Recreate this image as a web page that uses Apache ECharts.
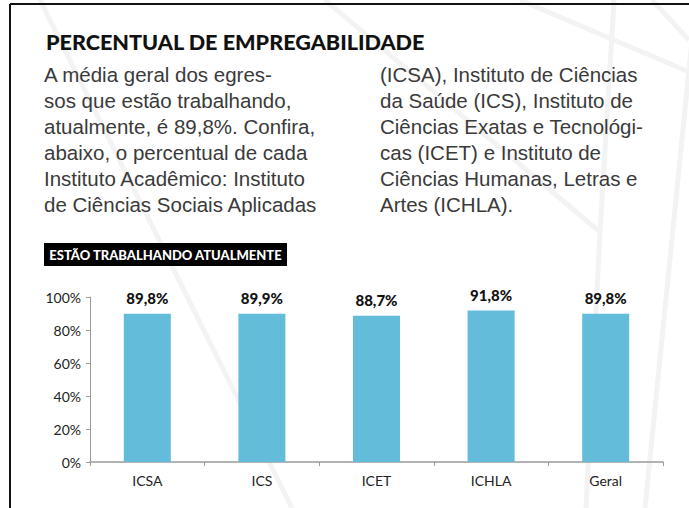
<!DOCTYPE html>
<html>
<head>
<meta charset="utf-8">
<script src="https://cdn.jsdelivr.net/npm/echarts@6/dist/echarts.min.js"></script>
<style>
  html, body { margin: 0; padding: 0; background: #fff; }
  #chart { width: 689px; height: 508px; }
</style>
</head>
<body>
<div id="chart"></div>
<script>
// dados do gráfico
let institutos = ['ICSA', 'ICS', 'ICET', 'ICHLA', 'Geral'];
let empregados = [89.8, 89.9, 88.7, 91.8, 89.8];
let rotulos = ['89,8%', '89,9%', '88,7%', '91,8%', '89,8%'];
let ticksY = [0, 20, 40, 60, 80, 100];

let titulo = 'PERCENTUAL DE EMPREGABILIDADE';
let colunaEsq = [
    'A média geral dos egres-',
    'sos que estão trabalhando,',
    'atualmente, é 89,8%. Confira,',
    'abaixo, o percentual de cada',
    'Instituto Acadêmico: Instituto',
    'de Ciências Sociais Aplicadas'
];
let colunaDir = [
    '(ICSA), Instituto de Ciências',
    'da Saúde (ICS), Instituto de',
    'Ciências Exatas e Tecnológi-',
    'cas (ICET) e Instituto de',
    'Ciências Humanas, Letras e',
    'Artes (ICHLA).'
];
let etiqueta = 'ESTÃO TRABALHANDO ATUALMENTE';

(function(){
    let chart = echarts.init(document.getElementById('chart'), null, {renderer: 'svg'});

    // linhas decorativas do fundo
    let fundo = [
        [40, 0, 292, 508],
        [325, 0, 600, 232],
        [520, 0, 689, 72],
        [614, 0, 600, 232],
        [600, 232, 586, 508],
        [692, 40, 645, 508],
        [652, 0, 689, 40]
    ].map(l => ({
        type: 'line', silent: true, z: -10,
        shape: {x1: l[0], y1: l[1], x2: l[2], y2: l[3]},
        style: {stroke: '#f3f3f3', lineWidth: 5}
    }));

    let textos = [];
    colunaEsq.forEach((linha, i) => {
        textos.push({type: 'text', left: 44, top: 64 + i * 26,
            style: {text: linha, font: '20.5px "Liberation Sans"', fill: '#3a3a3a'}});
    });
    colunaDir.forEach((linha, i) => {
        textos.push({type: 'text', left: 380, top: 64 + i * 26,
            style: {text: linha, font: '20.5px "Liberation Sans"', fill: '#3a3a3a'}});
    });

    let option = {
        animation: false,
        graphic: fundo.concat([
            // moldura
            {type: 'line', shape: {x1: 10, y1: 4, x2: 689, y2: 4}, style: {stroke: '#111', lineWidth: 2}},
            {type: 'line', shape: {x1: 10, y1: 4, x2: 10, y2: 508}, style: {stroke: '#111', lineWidth: 2}},
            {type: 'text', left: 46, top: 31,
                style: {text: titulo, font: '900 21.6px Lato', fill: '#111'}},
            {type: 'rect', shape: {x: 44, y: 243, width: 243, height: 23}, style: {fill: '#000'}},
            {type: 'text', x: 165.5, y: 254.5,
                style: {text: etiqueta, font: '900 13px Lato', fill: '#fff', align: 'center', verticalAlign: 'middle'}}
        ]).concat(textos),
        grid: {left: 90, right: 26, top: 297, bottom: 46},
        xAxis: {
            type: 'category',
            data: institutos,
            axisLine: {lineStyle: {color: '#9a9a9a', width: 1.5}},
            axisTick: {show: true, length: 4, lineStyle: {color: '#9a9a9a'}},
            axisLabel: {color: '#222', fontFamily: 'Lato', fontSize: 14, margin: 11}
        },
        yAxis: {
            type: 'value',
            min: 0, max: 100, interval: 20,
            axisLine: {show: true, lineStyle: {color: '#9a9a9a'}},
            axisTick: {show: true, length: 4, lineStyle: {color: '#9a9a9a'}},
            splitLine: {show: false},
            axisLabel: {color: '#222', fontFamily: 'Lato', fontSize: 14, margin: 9,
                formatter: v => v + '%'}
        },
        series: [{
            type: 'bar',
            data: empregados,
            barWidth: 47,
            itemStyle: {color: '#62bcda'},
            label: {
                show: true, position: 'top', distance: 8,
                fontFamily: 'Lato', fontWeight: 900, fontSize: 15, color: '#111',
                formatter: p => rotulos[p.dataIndex]
            }
        }]
    };
    chart.setOption(option);
})();
</script>
</body>
</html>
